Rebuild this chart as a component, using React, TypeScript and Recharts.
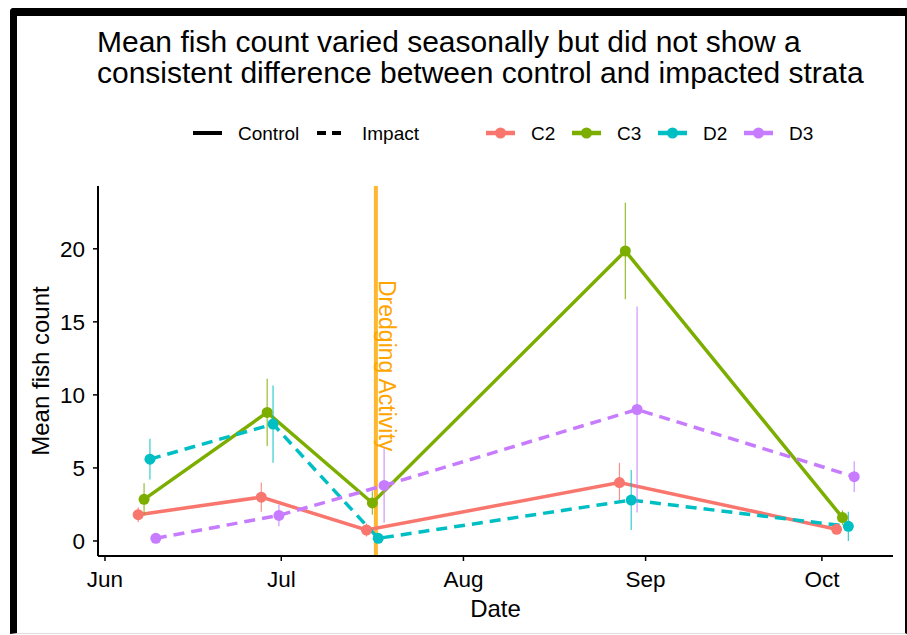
import React from "react"
import {
  ComposedChart,
  Line,
  XAxis,
  YAxis,
  ErrorBar,
  ReferenceLine,
} from "recharts"

const FONT = '"Liberation Sans", Arial, Helvetica, sans-serif'

// sampling visits, in days after 1 June
const VISIT_DAYS = [7.15, 28.1, 46, 89.05, 126]

const C2_MEAN = [1.8, 3.0, 0.75, 4.0, 0.8]
const C2_SE = [0.5, 1.0, 0.45, 1.35, 0.3]
const C3_MEAN = [2.85, 8.8, 2.6, 19.85, 1.6]
const C3_SE = [1.1, 2.3, 0.8, 3.3, 0.5]
const D2_MEAN = [5.6, 8.0, 0.18, 2.8, 1.0]
const D2_SE = [1.4, 2.65, 0.25, 2.05, 1.0]
const D3_MEAN = [0.18, 1.75, 3.8, 9.0, 4.4]
const D3_SE = [0.2, 0.75, 2.55, 7.05, 1.05]

const MONTH_TICKS = [0, 30, 61, 92, 122]
const MONTH_LABELS = ["Jun", "Jul", "Aug", "Sep", "Oct"]
const Y_TICKS = [0, 5, 10, 15, 20]
const DREDGING_DAY = 46.1

const STRATA = [
  { name: "C2", color: "#F8766D", dashed: false, dodge: -1.5, mean: C2_MEAN, se: C2_SE },
  { name: "C3", color: "#7CAE00", dashed: false, dodge: -0.5, mean: C3_MEAN, se: C3_SE },
  { name: "D2", color: "#00BFC4", dashed: true, dodge: 0.5, mean: D2_MEAN, se: D2_SE },
  { name: "D3", color: "#C77CFF", dashed: true, dodge: 1.5, mean: D3_MEAN, se: D3_SE },
]

const seriesData = (mean: number[], se: number[], dodge: number) =>
  VISIT_DAYS.map((d, i) => ({ x: d + dodge, y: mean[i], err: se[i] }))

const formatMonth = (v: number) => MONTH_LABELS[MONTH_TICKS.indexOf(v)] ?? ""

const tickStyle = { fill: "#000", fontSize: 22.5, fontFamily: FONT }

const renderDredging = (props: any) => {
  const { viewBox } = props
  const x = viewBox.x + 3.5
  const y = viewBox.y + 94
  return (
    <text
      x={x}
      y={y}
      transform={`rotate(90 ${x} ${y})`}
      fill="#FFA500"
      fontSize={23}
      fontFamily={FONT}
    >
      Dredging Activity
    </text>
  )
}

const renderYLabel = (props: any) => {
  const { viewBox } = props
  const x = 40
  const y = viewBox.y + viewBox.height / 2
  return (
    <text
      x={x}
      y={y}
      transform={`rotate(-90 ${x} ${y})`}
      textAnchor="middle"
      dominantBaseline="central"
      fill="#000"
      fontSize={24}
      fontFamily={FONT}
    >
      Mean fish count
    </text>
  )
}

const renderXLabel = (props: any) => {
  const { viewBox } = props
  return (
    <text
      x={viewBox.x + viewBox.width / 2}
      y={617}
      textAnchor="middle"
      fill="#000"
      fontSize={24}
      fontFamily={FONT}
    >
      Date
    </text>
  )
}

function TopLegend() {
  const keyW = 29
  return (
    <svg width={907} height={160} style={{ position: "absolute", left: 0, top: 0 }}>
      <g fontFamily={FONT} fontSize={19} fill="#000">
        <line x1={193} x2={193 + keyW} y1={133} y2={133} stroke="#000" strokeWidth={4} />
        <text x={238} y={140}>Control</text>
        <line
          x1={317}
          x2={317 + keyW}
          y1={133}
          y2={133}
          stroke="#000"
          strokeWidth={4}
          strokeDasharray="9 6"
        />
        <text x={362} y={140}>Impact</text>
        {STRATA.map((s, i) => {
          const x0 = 486 + i * 86
          return (
            <g key={s.name}>
              <line x1={x0} x2={x0 + keyW} y1={133} y2={133} stroke={s.color} strokeWidth={4.5} />
              <circle cx={x0 + keyW / 2} cy={133} r={5.5} fill={s.color} />
              <text x={x0 + keyW + 16} y={140}>{s.name}</text>
            </g>
          )
        })}
      </g>
    </svg>
  )
}

export default function App() {
  return (
    <div
      style={{
        position: "absolute",
        left: 0,
        top: 0,
        width: 907,
        height: 635,
        background: "#fff",
        overflow: "hidden",
      }}
    >
      <div
        style={{
          position: "absolute",
          left: 10,
          top: 8,
          width: 897,
          height: 626,
          boxSizing: "border-box",
          borderTop: "8px solid #000",
          borderLeft: "7px solid #000",
          borderRight: "2px solid #000",
          borderBottom: "1px solid #ddd",
          borderTopLeftRadius: 4,
        }}
      />
      <div
        style={{
          position: "absolute",
          left: 97,
          top: 25.5,
          fontFamily: FONT,
          fontSize: 30,
          lineHeight: "31.5px",
          color: "#000",
          whiteSpace: "nowrap",
        }}
      >
        Mean fish count varied seasonally but did not show a
        <br />
        consistent difference between control and impacted strata
      </div>
      <TopLegend />
      <div style={{ position: "absolute", left: 0, top: 0 }}>
        <ComposedChart
          width={907}
          height={635}
          margin={{ top: 186, right: 14, bottom: 49, left: 38 }}
        >
          <XAxis
            type="number"
            dataKey="x"
            domain={[-1.19, 134.1]}
            allowDataOverflow
            ticks={MONTH_TICKS}
            tickFormatter={formatMonth}
            tick={tickStyle}
            tickSize={5}
            tickMargin={10}
            height={30}
            axisLine={{ stroke: "#000", strokeWidth: 2 }}
            tickLine={{ stroke: "#000", strokeWidth: 1.5 }}
            label={renderXLabel}
          />
          <YAxis
            type="number"
            domain={[-1.03, 24.3]}
            allowDataOverflow
            ticks={Y_TICKS}
            tick={tickStyle}
            tickSize={5}
            tickMargin={8}
            width={60}
            axisLine={{ stroke: "#000", strokeWidth: 2 }}
            tickLine={{ stroke: "#000", strokeWidth: 1.5 }}
            label={renderYLabel}
          />
          <ReferenceLine
            x={DREDGING_DAY}
            stroke="#FFB733"
            strokeWidth={4}
            label={renderDredging}
          />
          {STRATA.map((s) => (
            <Line
              key={s.name}
              data={seriesData(s.mean, s.se, s.dodge)}
              dataKey="y"
              name={s.name}
              stroke={s.color}
              strokeWidth={3.5}
              strokeDasharray={s.dashed ? "11 7" : undefined}
              dot={{ r: 5.5, fill: s.color, stroke: s.color, strokeWidth: 0 }}
              activeDot={false}
              isAnimationActive={false}
            >
              <ErrorBar
                dataKey="err"
                direction="y"
                width={0}
                stroke={s.color}
                strokeWidth={1.2}
                strokeOpacity={0.8}
              />
            </Line>
          ))}
        </ComposedChart>
      </div>
    </div>
  )
}
